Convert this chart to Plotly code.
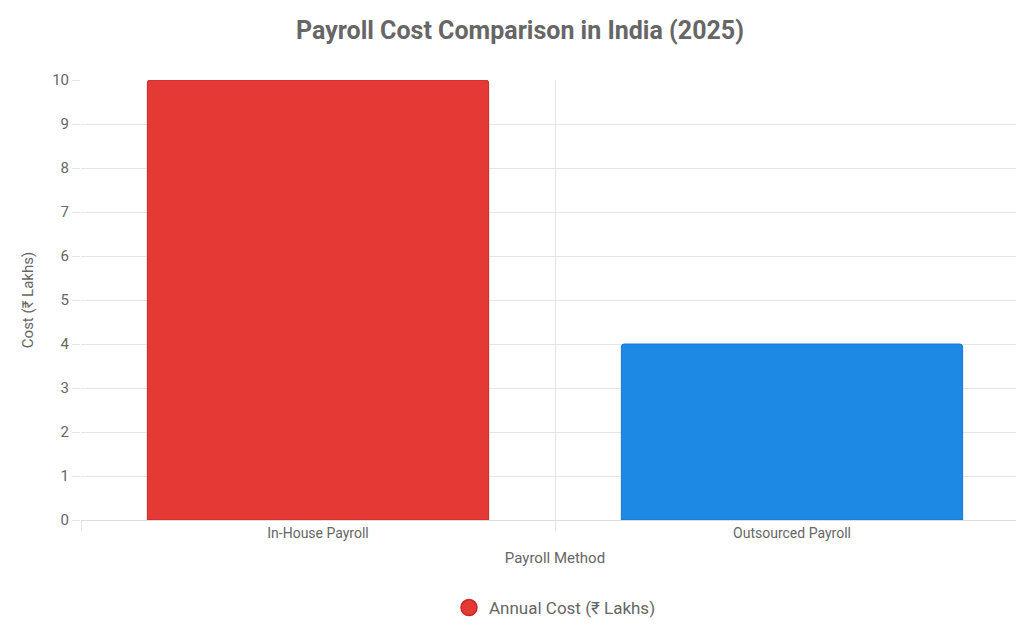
import plotly.graph_objects as go

categories = ["In-House Payroll", "Outsourced Payroll"]
values = [10, 4]
colors = ["#e53935", "#1e88e5"]
borders = ["#c62828", "#1976d2"]
series_name = "Annual Cost (₹ Lakhs)"

fig = go.Figure()
fig.add_trace(go.Bar(
    x=[0, 1], y=values, width=0.72, showlegend=False,
    marker=dict(color=colors, line=dict(color=borders, width=1), cornerradius=3),
))
fig.add_trace(go.Scatter(
    x=[None], y=[None], mode="markers", name=series_name,
    marker=dict(symbol="circle", size=16, color=colors[0], line=dict(color=borders[0], width=1.5)),
))
fig.update_layout(
    width=1024, height=636, paper_bgcolor="white", plot_bgcolor="white",
    margin=dict(l=73, r=3, t=72, b=124),
    font=dict(family="Roboto, Arial, sans-serif", color="#666", size=14),
    title=dict(text="<b>Payroll Cost Comparison in India (2025)</b>", x=0.5, xanchor="center",
               y=0.965, yanchor="middle", font=dict(size=25, color="#666")),
    legend=dict(orientation="h", x=0.5, xanchor="center", y=-0.2, yanchor="middle",
                font=dict(size=17, color="#666")),
    xaxis=dict(range=[-0.5, 1.5], tickvals=[0, 1], ticktext=categories, showgrid=False,
               ticks="", zeroline=False, showline=True, linecolor="#ddd",
               title=dict(text="Payroll Method", font=dict(size=15), standoff=12),
               minor=dict(tickvals=[-0.5, 0.5, 1.5], showgrid=True, gridcolor="#e5e5e5",
                          ticks="outside", ticklen=10, tickcolor="#e5e5e5")),
    yaxis=dict(range=[0, 10], dtick=1, gridcolor="#e5e5e5", ticks="outside", ticklen=8,
               tickcolor="#e5e5e5", zeroline=False, showline=False, tickfont=dict(size=15),
               title=dict(text="Cost (₹ Lakhs)", font=dict(size=15), standoff=14)),
)
fig.write_html("out.html")
